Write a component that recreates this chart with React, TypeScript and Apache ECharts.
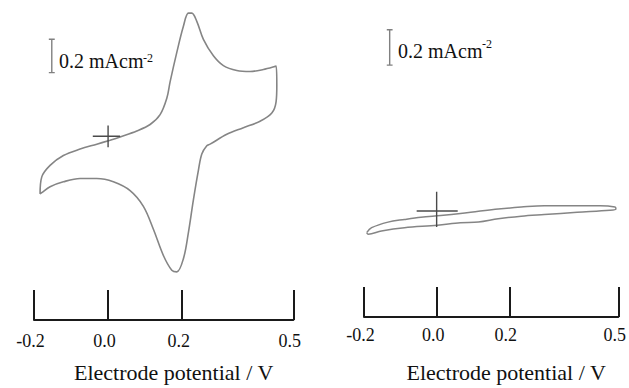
import React, { useEffect, useRef } from "react";
import * as echarts from "echarts";

// Axis ticks (V)
const tickValues = [-0.2, 0.0, 0.2, 0.5];
const xTitle = "Electrode potential / V";
const scaleText = "0.2 mAcm";
const scaleSup = "-2";

// Left CV: potential (V) and current density (mA cm^-2)
const leftV = [
  0.0054, 0.0324, 0.0775, 0.1134, 0.1404, 0.1585, 0.1674, 0.1855, 0.2033, 0.2168, 0.226, 0.2395,
  0.2573, 0.2843, 0.3113, 0.3475, 0.3834, 0.4193, 0.4536, 0.4555, 0.4536, 0.442, 0.4104, 0.3653,
  0.3205, 0.2754, 0.2665, 0.253, 0.2438, 0.2303, 0.2168, 0.2033, 0.1855, 0.172, 0.1493, 0.1223,
  0.0953, 0.0594, 0.0143, -0.0305, -0.0756, -0.1207, -0.1566, -0.179, -0.1836, -0.179, -0.1566,
  -0.1207, -0.0756, -0.0305, 0.0054,
];
const leftI = [
  -0.0235, -0.0035, 0.0318, 0.0706, 0.1294, 0.2276, 0.3259, 0.5024, 0.6588, 0.7376, 0.7376, 0.6882,
  0.5806, 0.4824, 0.4235, 0.3941, 0.3882, 0.4, 0.42, 0.3059, 0.2082, 0.1394, 0.0906, 0.0512,
  0.0118, -0.0471, -0.0565, -0.1059, -0.2035, -0.38, -0.5765, -0.7329, -0.8118, -0.8018, -0.7135,
  -0.5565, -0.4194, -0.3253, -0.2724, -0.2529, -0.2529, -0.2724, -0.3018, -0.3371, -0.3447, -0.2429,
  -0.1741, -0.1153, -0.0765, -0.0471, -0.0235,
];

// Right CV
const rightV = [
  -0.1926, -0.179, -0.1339, -0.0886, -0.0432, 0.0111, 0.0655, 0.1152, 0.1695, 0.2328, 0.2964,
  0.3868, 0.4502, 0.4909, 0.4936, 0.4773, 0.3868, 0.2964, 0.2328, 0.1695, 0.1152, 0.0655, 0.0019,
  -0.0886, -0.1519, -0.1883, -0.1926,
];
const rightI = [
  -0.1222, -0.0944, -0.0628, -0.0478, -0.035, -0.0256, -0.0144, -0.0017, 0.0111, 0.0222, 0.03,
  0.03, 0.03, 0.0222, 0.0111, 0.0039, -0.0072, -0.02, -0.0294, -0.0444, -0.0628, -0.0667, -0.0811,
  -0.0944, -0.1128, -0.1311, -0.1222,
];

// Annotations: crosshair at origin and 0.2 mA cm^-2 scale bars
const leftCrossH = [[-0.0413, 0], [0.0324, 0]];
const leftCrossV = [[0, 0.065], [0, -0.066]];
const rightCrossH = [[-0.055, 0], [0.058, 0]];
const rightCrossV = [[0, 0.109], [0, -0.091]];
const leftBar = [[-0.152, 0.581], [-0.152, 0.381]];
const rightBar = [[-0.1293, 1.026], [-0.1293, 0.826]];
const leftBarCapHalf = 0.008;
const rightBarCapHalf = 0.008;

const FONT = "Liberation Serif";

function zip(xs: number[], ys: number[]) {
  return xs.map((x, i) => [x, ys[i]]);
}

function seg(idx: number, data: number[][], color: string, width: number) {
  return {
    type: "line",
    xAxisIndex: idx,
    yAxisIndex: idx,
    data,
    symbol: "none",
    silent: true,
    lineStyle: { color, width },
  };
}

function capSegs(idx: number, bar: number[][], half: number, color: string) {
  return bar.map((p) => seg(idx, [[p[0] - half, p[1]], [p[0] + half, p[1]]], color, 1.3));
}

function xAxisFor(idx: number, nameGap: number, margin: number, shift: number) {
  return {
    gridIndex: idx,
    type: "value",
    min: -0.2,
    max: 0.5,
    name: xTitle,
    nameLocation: "middle",
    nameGap,
    nameTextStyle: {
      fontFamily: FONT,
      fontSize: 22,
      color: "#111",
      padding: [0, 0, 0, shift],
    },
    axisLine: { show: true, onZero: false, lineStyle: { color: "#1a1a1a", width: 2 } },
    axisTick: {
      show: true,
      inside: true,
      length: 30,
      customValues: tickValues,
      lineStyle: { color: "#1a1a1a", width: 2 },
    },
    axisLabel: {
      customValues: tickValues,
      formatter: (v: number) => v.toFixed(1),
      fontFamily: FONT,
      fontSize: 18,
      color: "#111",
      margin,
      padding: [0, 7, 0, 0],
    },
    splitLine: { show: false },
  };
}

export default function App() {
  const ref = useRef<HTMLDivElement>(null);
  useEffect(() => {
    if (!ref.current) return;
    const chart = echarts.init(ref.current, null, { renderer: "svg" });
    const curveColor = "#858585";
    const crossColor = "#4a4a4a";
    const barColor = "#808080";
    chart.setOption({
      animation: false,
      backgroundColor: "#ffffff",
      grid: [
        { left: 34, right: 335.7, top: 2.7, bottom: 62.3 },
        { left: 364, right: 7.3, top: 16.7, bottom: 65.3 },
      ],
      xAxis: [xAxisFor(0, 41, 12, 20), xAxisFor(1, 44, 9, 30)],
      yAxis: [
        { gridIndex: 0, type: "value", min: -1.1, max: 0.8, show: false },
        { gridIndex: 1, type: "value", min: -0.6, max: 1.1, show: false },
      ],
      series: [
        {
          type: "line",
          xAxisIndex: 0,
          yAxisIndex: 0,
          data: zip(leftV, leftI),
          symbol: "none",
          smooth: 0.35,
          lineStyle: { color: curveColor, width: 1.6 },
        },
        {
          type: "line",
          xAxisIndex: 1,
          yAxisIndex: 1,
          data: zip(rightV, rightI),
          symbol: "none",
          smooth: 0.35,
          lineStyle: { color: curveColor, width: 1.5 },
        },
        seg(0, leftCrossH, crossColor, 1.4),
        seg(0, leftCrossV, crossColor, 1.4),
        seg(1, rightCrossH, crossColor, 1.4),
        seg(1, rightCrossV, crossColor, 1.4),
        seg(0, leftBar, barColor, 1.4),
        seg(1, rightBar, barColor, 1.4),
        ...capSegs(0, leftBar, leftBarCapHalf, barColor),
        ...capSegs(1, rightBar, rightBarCapHalf, barColor),
      ],
      graphic: [
        {
          type: "text",
          x: 59,
          y: 61,
          style: { text: scaleText, font: `20px "${FONT}"`, fill: "#111", verticalAlign: "middle" },
        },
        {
          type: "text",
          x: 143,
          y: 52,
          style: { text: scaleSup, font: `12px "${FONT}"`, fill: "#111", verticalAlign: "top" },
        },
        {
          type: "text",
          x: 398,
          y: 51,
          style: { text: scaleText, font: `20px "${FONT}"`, fill: "#111", verticalAlign: "middle" },
        },
        {
          type: "text",
          x: 482,
          y: 38,
          style: { text: scaleSup, font: `12px "${FONT}"`, fill: "#111", verticalAlign: "top" },
        },
      ],
    });
    return () => chart.dispose();
  }, []);
  return <div ref={ref} style={{ width: 629, height: 388, position: "fixed", left: 0, top: 0 }} />;
}
